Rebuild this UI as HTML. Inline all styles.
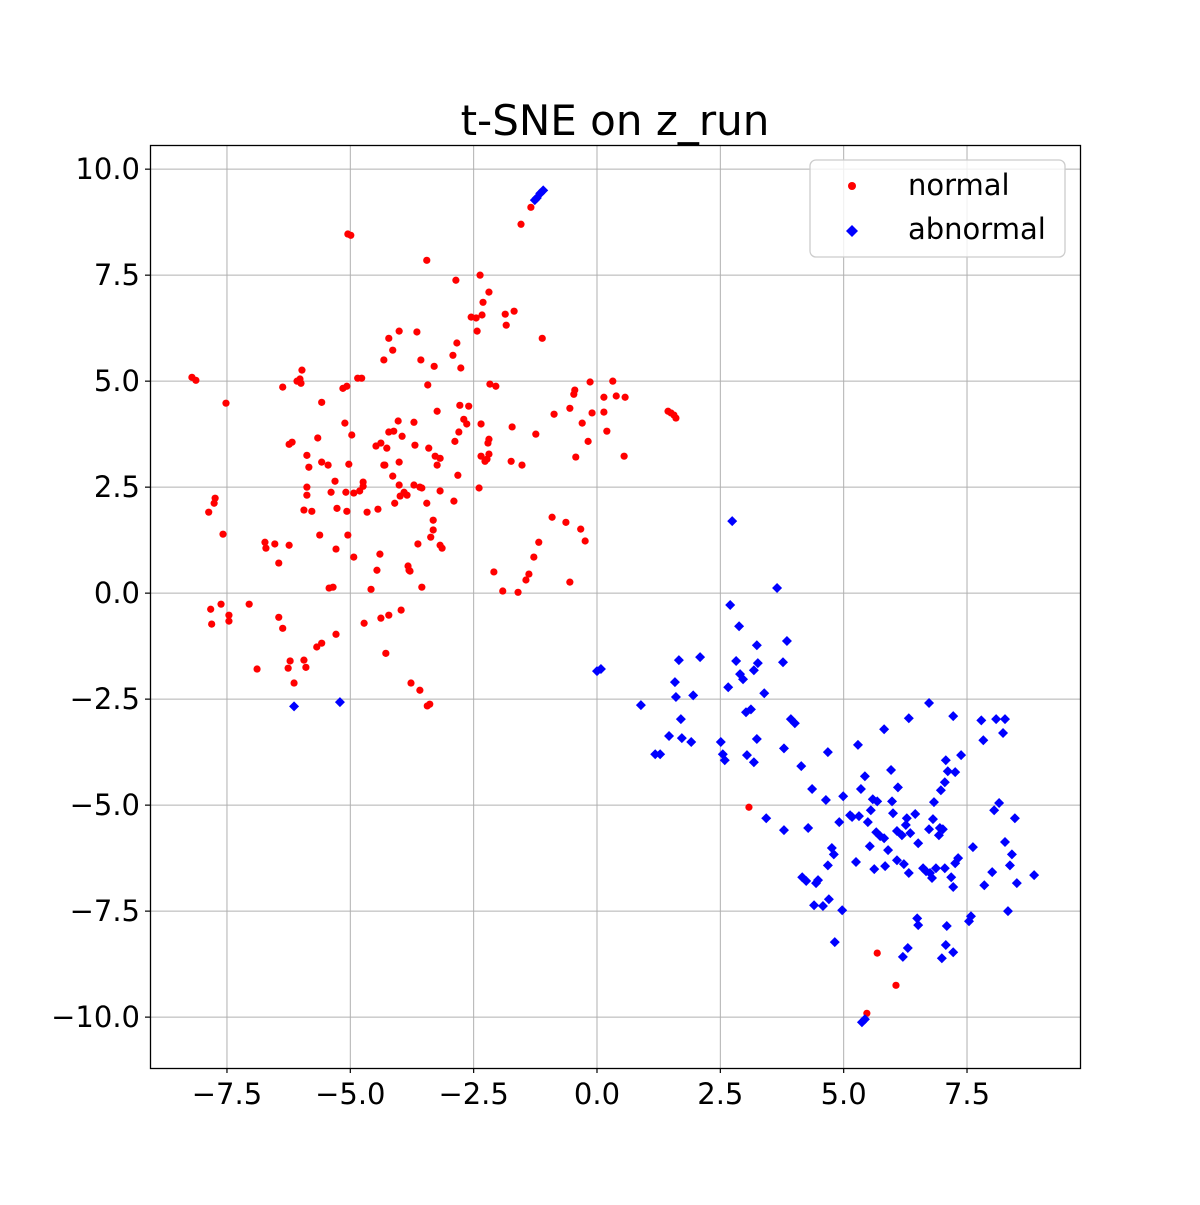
<!DOCTYPE html>
<html><head><meta charset="utf-8"><style>
html,body{margin:0;padding:0;background:#fff;}
svg text{font-family:"DejaVu Sans","Liberation Sans",sans-serif;}
</style></head>
<body>
<svg id="chart" width="1200" height="1200" xmlns="http://www.w3.org/2000/svg">
<rect x="0" y="0" width="1200" height="1200" fill="#fff"/>
<text x="615" y="135" font-size="42" text-anchor="middle">t-SNE on z_run</text>
<g id="grid"></g>
<g id="marks"></g>
<rect x="150.5" y="145.5" width="930" height="923" fill="none" stroke="#000" stroke-width="1.3"/>
<g id="ticks"></g>
<g>
<rect x="810" y="160" width="255" height="97" rx="6" fill="#fff" fill-opacity="0.8" stroke="#ccc" stroke-width="1.3"/>
<circle cx="852" cy="186" r="4" fill="#ff0000"/>
<text x="908" y="195" font-size="29">normal</text>
<polygon points="852,225 858,231 852,237 846,231" fill="#0000ff"/>
<text x="908" y="239" font-size="29">abnormal</text>
</g>
</svg>
<script>
const xTicks=[-7.5,-5.0,-2.5,0.0,2.5,5.0,7.5];
const yTicks=[-10.0,-7.5,-5.0,-2.5,0.0,2.5,5.0,7.5,10.0];
const normalPoints=[[-8.21,5.09],[-8.13,5.02],[-7.52,4.48],[-7.87,1.91],[-7.76,2.12],[-7.74,2.24],[-7.58,1.39],[-7.83,-0.38],[-7.81,-0.73],[-7.62,-0.26],[-7.46,-0.52],[-7.46,-0.66],[-7.05,-0.26],[-6.89,-1.79],[-6.73,1.20],[-6.71,1.06],[-6.53,1.16],[-6.45,0.71],[-6.37,4.86],[-6.24,1.13],[-6.24,3.51],[-6.18,3.56],[-6.45,-0.57],[-6.37,-0.83],[-6.22,-1.60],[-6.26,-1.77],[-6.14,-2.12],[-6.08,5.00],[-6.02,5.05],[-5.98,5.26],[-6.00,4.95],[-5.94,-1.58],[-5.90,-1.75],[-5.88,3.25],[-5.84,2.97],[-5.88,2.50],[-5.88,2.31],[-5.94,1.96],[-5.78,1.93],[-5.68,-1.27],[-5.58,-1.18],[-5.66,3.66],[-5.62,1.37],[-5.58,4.50],[-5.58,3.09],[-5.45,3.02],[-5.43,0.12],[-5.35,0.14],[-5.39,2.38],[-5.31,2.64],[-5.27,2.00],[-5.29,1.04],[-5.29,-0.97],[-5.15,4.83],[-5.07,4.88],[-5.11,4.01],[-5.09,2.38],[-5.07,1.93],[-5.05,1.37],[-5.05,8.47],[-4.99,8.44],[-5.03,3.04],[-4.97,3.73],[-4.93,0.85],[-4.93,2.36],[-4.85,5.07],[-4.77,5.07],[-4.81,2.41],[-4.74,2.62],[-4.74,2.52],[-4.72,-0.71],[-4.66,1.91],[-4.58,0.09],[-4.48,3.47],[-4.46,0.54],[-4.40,0.92],[-4.44,1.98],[-4.38,-0.59],[-4.38,3.54],[-4.32,3.02],[-4.32,5.50],[-4.30,3.02],[-4.28,-1.42],[-4.26,3.42],[-4.22,6.01],[-4.22,3.80],[-4.22,-0.52],[-4.14,5.73],[-4.12,3.82],[-4.14,2.76],[-4.10,2.12],[-4.01,6.18],[-4.03,4.06],[-4.01,3.09],[-4.01,2.55],[-3.99,2.29],[-3.97,-0.40],[-3.95,3.70],[-3.91,2.38],[-3.85,2.31],[-3.83,0.64],[-3.81,0.54],[-3.79,0.52],[-3.77,-2.12],[-3.71,4.03],[-3.69,3.49],[-3.71,2.55],[-3.63,1.16],[-3.65,6.16],[-3.59,-2.29],[-3.59,2.50],[-3.57,5.50],[-3.55,0.14],[-3.55,2.48],[-3.45,7.85],[-3.45,2.12],[-3.43,4.91],[-3.41,3.42],[-3.39,-2.62],[-3.37,1.32],[-3.32,1.72],[-3.32,1.49],[-3.30,5.35],[-3.28,3.23],[-3.24,4.29],[-3.24,3.02],[-3.18,3.18],[-3.18,2.41],[-3.18,1.13],[-3.14,1.06],[-3.44,-2.66],[-2.92,5.61],[-2.90,2.17],[-2.88,3.58],[-2.86,7.38],[-2.84,5.90],[-2.82,2.78],[-2.76,5.31],[-2.78,4.43],[-2.80,3.80],[-2.70,4.10],[-2.64,3.99],[-2.60,4.41],[-2.55,6.51],[-2.45,6.49],[-2.43,6.18],[-2.39,2.48],[-2.35,3.99],[-2.37,7.50],[-2.33,6.56],[-2.31,6.86],[-2.35,3.23],[-2.27,3.11],[-2.23,3.16],[-2.19,7.10],[-2.19,3.63],[-2.19,3.28],[-2.17,4.93],[-2.21,3.54],[-2.09,0.50],[-2.05,4.88],[-1.91,0.05],[-1.86,6.58],[-1.84,6.32],[-1.72,3.92],[-1.74,3.11],[-1.68,6.65],[-1.60,0.02],[-1.54,8.70],[-1.52,3.02],[-1.44,0.31],[-1.38,0.45],[-1.34,9.10],[-1.28,0.85],[-1.24,3.75],[-1.18,1.20],[-1.11,6.01],[-0.91,1.79],[-0.87,4.22],[-0.63,1.67],[-0.55,4.36],[-0.55,0.26],[-0.47,4.69],[-0.45,4.79],[-0.43,3.21],[-0.33,1.51],[-0.30,4.01],[-0.24,1.23],[-0.18,3.58],[-0.14,4.98],[-0.10,4.25],[0.14,4.62],[0.14,4.27],[0.20,3.82],[0.32,5.00],[0.39,4.65],[0.57,4.62],[0.55,3.23],[1.44,4.29],[1.50,4.25],[1.56,4.20],[1.60,4.13],[3.08,-5.05],[5.68,-8.49],[6.06,-9.25],[5.47,-9.91]];
const abnormalPoints=[[-6.14,-2.67],[-5.21,-2.57],[-1.15,9.43],[-1.09,9.50],[-1.22,9.32],[-1.26,9.27],[0.00,-1.84],[0.08,-1.79],[0.89,-2.64],[1.18,-3.80],[1.28,-3.80],[1.46,-3.37],[1.58,-2.10],[1.60,-2.45],[1.66,-1.58],[1.70,-2.97],[1.72,-3.42],[1.91,-3.51],[1.95,-2.41],[2.09,-1.51],[2.51,-3.51],[2.55,-3.80],[2.59,-3.94],[2.66,-2.22],[2.70,-0.28],[2.74,1.70],[2.82,-1.60],[2.88,-0.78],[2.90,-1.91],[2.96,-2.03],[3.02,-2.81],[3.04,-3.82],[3.12,-2.74],[3.18,-3.99],[3.18,-1.82],[3.26,-1.65],[3.24,-1.23],[3.24,-3.44],[3.39,-2.36],[3.43,-5.31],[3.65,0.12],[3.77,-1.63],[3.85,-1.13],[3.79,-3.66],[3.79,-5.59],[3.93,-2.97],[4.01,-3.07],[4.14,-4.08],[4.16,-6.70],[4.24,-6.79],[4.28,-5.54],[4.36,-4.62],[4.40,-7.36],[4.44,-6.84],[4.48,-6.77],[4.58,-7.38],[4.64,-4.88],[4.68,-3.75],[4.68,-6.42],[4.70,-7.22],[4.76,-6.01],[4.80,-6.16],[4.82,-8.23],[4.91,-5.40],[4.97,-7.48],[4.99,-4.79],[5.13,-5.24],[5.17,-5.28],[5.25,-6.34],[5.29,-3.58],[5.31,-5.26],[5.35,-4.62],[5.37,-10.12],[5.43,-10.05],[5.43,-4.32],[5.49,-5.40],[5.53,-5.97],[5.55,-5.12],[5.59,-4.86],[5.62,-6.51],[5.66,-5.64],[5.68,-4.91],[5.74,-5.73],[5.82,-3.21],[5.82,-5.78],[5.84,-6.44],[5.90,-6.06],[5.96,-4.17],[5.98,-4.91],[6.00,-5.19],[6.08,-5.61],[6.08,-6.30],[6.10,-4.58],[6.18,-5.71],[6.20,-8.58],[6.22,-6.39],[6.26,-5.47],[6.28,-5.31],[6.30,-8.37],[6.32,-2.95],[6.32,-6.60],[6.35,-5.66],[6.45,-5.21],[6.49,-7.67],[6.51,-7.83],[6.51,-5.90],[6.61,-6.49],[6.67,-6.56],[6.73,-2.59],[6.73,-5.57],[6.75,-6.60],[6.79,-6.72],[6.81,-5.33],[6.83,-4.93],[6.87,-6.49],[6.93,-5.71],[6.95,-5.54],[6.97,-4.65],[6.99,-8.61],[7.01,-5.57],[7.05,-4.46],[7.05,-6.49],[7.07,-8.30],[7.07,-3.94],[7.09,-7.85],[7.11,-4.20],[7.18,-6.70],[7.22,-2.90],[7.22,-6.93],[7.22,-8.47],[7.26,-6.37],[7.26,-4.22],[7.32,-6.25],[7.38,-3.82],[7.54,-7.74],[7.58,-7.62],[7.62,-5.99],[7.79,-3.00],[7.83,-3.47],[7.85,-6.89],[8.01,-6.58],[8.05,-5.12],[8.09,-2.97],[8.15,-4.95],[8.23,-3.30],[8.27,-2.97],[8.27,-5.87],[8.33,-7.50],[8.37,-6.42],[8.41,-6.16],[8.47,-5.31],[8.51,-6.84],[8.86,-6.65]];

const NS='http://www.w3.org/2000/svg';
const X0=150,X1=1080,Y0=145,Y1=1068;
const xMin=-9.06,xMax=9.79,yMin=-11.2,yMax=10.57;
function sx(v){return X0+(v-xMin)/(xMax-xMin)*(X1-X0);}
function sy(v){return Y1-(v-yMin)/(yMax-yMin)*(Y1-Y0);}
function mk(tag,attrs){const e=document.createElementNS(NS,tag);for(const k in attrs)e.setAttribute(k,attrs[k]);return e;}
function fmt(v){const s=Math.abs(v).toFixed(1);return v<0?'\u2212'+s:s;}
const grid=document.getElementById('grid'),ticks=document.getElementById('ticks'),marks=document.getElementById('marks');
xTicks.forEach(t=>{const x=sx(t);
 const g=mk('line',{x1:x,x2:x,y1:Y0,y2:Y1,stroke:'#b0b0b0','stroke-width':1});
 
 grid.appendChild(g);
 const tk=mk('line',{x1:x,x2:x,y1:Y1,y2:Y1+5,stroke:'#000','stroke-width':1.2});
 
 ticks.appendChild(tk);
 const tx=mk('text',{x:x,y:Y1+36,'font-size':29,'text-anchor':'middle'});tx.textContent=fmt(t);
 
 ticks.appendChild(tx);});
yTicks.forEach(t=>{const y=sy(t);
 const g=mk('line',{x1:X0,x2:X1,y1:y,y2:y,stroke:'#b0b0b0','stroke-width':1});
 
 grid.appendChild(g);
 const tk=mk('line',{x1:X0-5,x2:X0,y1:y,y2:y,stroke:'#000','stroke-width':1.2});
 
 ticks.appendChild(tk);
 const tx=mk('text',{x:X0-10,y:y+10,'font-size':29,'text-anchor':'end'});tx.textContent=fmt(t);
 
 ticks.appendChild(tx);});
normalPoints.forEach(p=>{const c=mk('circle',{cx:sx(p[0]),cy:sy(p[1]),r:3.6,fill:'#ff0000'});
 
 marks.appendChild(c);});
abnormalPoints.forEach(p=>{const x=sx(p[0]),y=sy(p[1]),r=5;
 const d=mk('polygon',{points:`${x},${y-r} ${x+r},${y} ${x},${y+r} ${x-r},${y}`,fill:'#0000ff'});
 
 marks.appendChild(d);});
</script>
</body></html>
